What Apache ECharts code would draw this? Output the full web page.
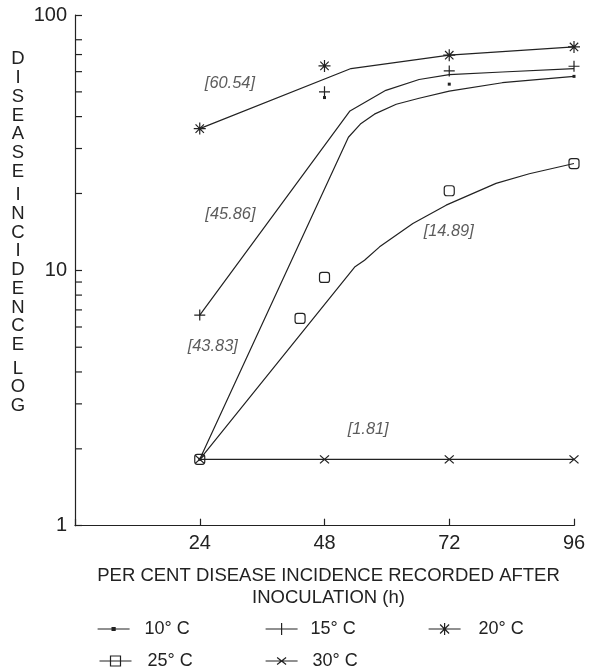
<!DOCTYPE html>
<html><head><meta charset="utf-8">
<script src="https://cdn.jsdelivr.net/npm/echarts@6/dist/echarts.min.js"></script>
<style>html,body{margin:0;padding:0;background:#fff}#c{width:593px;height:671px}</style>
</head><body><div id="c"></div>
<script>
// ---------- data ----------
const seriesNames = ['10° C', '15° C', '20° C', '25° C', '30° C'];
const xTickHours = [24, 48, 72, 96];
const yMinorTicks = [2, 3, 4, 5, 6, 7, 8, 9, 20, 30, 40, 50, 60, 70, 80];
const yTitleWords = ['DISEASE', 'INCIDENCE', 'LOG'];
const xTitle = 'PER CENT DISEASE INCIDENCE RECORDED AFTER\nINOCULATION (h)';

// observed points (markers)
const obs10X = [24, 48, 72, 96];
const obs10Y = [1.82, 47.5, 53.6, 57.5];
const obs15X = [24, 48, 72, 96];
const obs15Y = [6.68, 50.0, 60.4, 63.0];
const obs20X = [24, 48, 72, 96];
const obs20Y = [35.9, 63.2, 69.6, 75.0];
const obs25X = [24, 43.3, 48, 72, 96];
const obs25Y = [1.82, 6.48, 9.38, 20.5, 26.2];
const obs30X = [24, 48, 72, 96];
const obs30Y = [1.82, 1.82, 1.82, 1.82];

// fitted curves
const fit10X = [24, 52.6, 54.9, 57.6, 61.8, 66.2, 72, 82.2, 96];
const fit10Y = [1.82, 33.2, 37.4, 40.9, 44.7, 47.2, 50.3, 54.3, 57.5];
const fit15X = [24, 52.9, 59.8, 66.2, 72, 82.2, 96];
const fit15Y = [6.68, 42.1, 50.7, 55.9, 58.4, 59.8, 61.7];
const fit20X = [24, 53.1, 72, 96];
const fit20Y = [35.9, 61.7, 69.6, 75.0];
const fit25X = [24, 53.8, 55.7, 58.6, 65, 71.4, 81, 87.4, 96];
const fit25Y = [1.82, 10.3, 10.96, 12.36, 15.26, 18.0, 21.9, 23.9, 26.2];
const fit30X = [24, 96];
const fit30Y = [1.82, 1.82];

// bracketed annotations
const annText = ['[60.54]', '[45.86]', '[43.83]', '[14.89]', '[1.81]'];
const annX = [29.8, 29.9, 26.5, 71.9, 56.4];
const annY = [53.9, 16.6, 5.02, 14.15, 2.38];

// ---------- styling ----------
const INK = '#222';
const FONT = 'Liberation Sans, Arial, sans-serif';
const markerSymbols = [
  'rect',
  'path://M0,-5L0,5M-5,0L5,0',
  'path://M0,-6L0,6M-6,0L6,0M-4.2,-4.2L4.2,4.2M-4.2,4.2L4.2,-4.2',
  'roundRect',
  'path://M-5,-4L5,4M-5,4L5,-4'
];
const markerSizes = [3, 11, 12, 10, [9, 8]];
const markerFill = [INK, INK, INK, 'transparent', INK];
const legendIcons = [
  'path://M0,6L32,6M14.5,4.5L17.5,4.5L17.5,7.5L14.5,7.5Z',
  'path://M0,6L32,6M16,0L16,12',
  'path://M0,6L32,6M16,0L16,12M11.5,1.5L20.5,10.5M11.5,10.5L20.5,1.5',
  'path://M0,6L32,6M11,1L21,1L21,11L11,11Z',
  'path://M0,6L32,6M11.5,2.5L20.5,9.5M11.5,9.5L20.5,2.5'
];
const legendPos = [[97, 620, 10], [265, 620, 8], [428, 620, 13], [97, 652, 11], [265, 652, 10]];

const pairs = (xs, ys) => xs.map((x, i) => [x, ys[i]]);
const fits = [pairs(fit10X, fit10Y), pairs(fit15X, fit15Y), pairs(fit20X, fit20Y), pairs(fit25X, fit25Y), pairs(fit30X, fit30Y)];
const obs = [pairs(obs10X, obs10Y), pairs(obs15X, obs15Y), pairs(obs20X, obs20Y), pairs(obs25X, obs25Y), pairs(obs30X, obs30Y)];

const series = [];
seriesNames.forEach((name, i) => {
  series.push({
    name, type: 'line', data: fits[i], symbol: 'none', smooth: false, silent: true,
    lineStyle: { color: INK, width: 1.2 }, itemStyle: { color: INK }, z: 2
  });
});
seriesNames.forEach((name, i) => {
  series.push({
    name, type: 'scatter', data: obs[i], symbol: markerSymbols[i], symbolSize: markerSizes[i], silent: true,
    itemStyle: { color: markerFill[i], borderColor: INK, borderWidth: i === 0 ? 0 : 1.2, opacity: 1 }, z: 3
  });
});
// minor log ticks drawn through the axis scale
series.push({
  type: 'custom', silent: true, clip: false, z: 4,
  data: yMinorTicks.map(v => [0, v]),
  renderItem: (params, api) => {
    const p = api.coord([api.value(0), api.value(1)]);
    return { type: 'line', shape: { x1: p[0], y1: p[1], x2: p[0] + 7, y2: p[1] }, style: { stroke: INK, lineWidth: 1.2 } };
  }
});
// annotations
series.push({
  type: 'scatter', silent: true, symbolSize: 0, z: 5,
  data: annText.map((t, i) => ({ name: t, value: [annX[i], annY[i]] })),
  label: {
    show: true, position: 'inside', formatter: p => p.name,
    fontFamily: FONT, fontStyle: 'italic', fontSize: 16.4, color: '#333'
  }
});

const legends = seriesNames.map((name, i) => ({
  left: legendPos[i][0], top: legendPos[i][1], orient: 'horizontal', padding: 0,
  itemWidth: 32, itemHeight: 12, selectedMode: false,
  data: [{ name, icon: legendIcons[i], itemStyle: { color: markerFill[i] === 'transparent' ? 'none' : INK, borderColor: INK, borderWidth: 1.2 } }],
  textStyle: { fontFamily: FONT, fontSize: 18, color: INK, padding: [0, 0, 0, legendPos[i][2]] }
}));

const yTitleText = yTitleWords.map(w => w.split('').join('\n')).join('\n{g| }\n');

const option = {
  animation: false,
  backgroundColor: '#fff',
  grid: { left: 75, right: 19, top: 15, bottom: 145.3, containLabel: false, outerBoundsMode: 'none' },
  legend: legends,
  xAxis: {
    type: 'value', min: 0, max: 96, interval: 24,
    name: xTitle, nameLocation: 'middle', nameGap: 39, nameMoveOverlap: false,
    nameTextStyle: { fontFamily: FONT, fontSize: 18.5, lineHeight: 22, color: INK, padding: [0, 0, 0, 8] },
    axisLine: { show: true, lineStyle: { color: INK, width: 1.2 } },
    axisTick: { show: true, inside: true, length: 7, lineStyle: { color: INK, width: 1.2 } },
    axisLabel: { fontFamily: FONT, fontSize: 20, color: INK, margin: 8, formatter: v => (xTickHours.indexOf(v) >= 0 ? String(v) : '') },
    splitLine: { show: false }
  },
  yAxis: {
    type: 'log', logBase: 10, min: 1, max: 100,
    axisLine: { show: true, lineStyle: { color: INK, width: 1.2 } },
    axisTick: { show: true, inside: true, length: 7, lineStyle: { color: INK, width: 1.2 } },
    axisLabel: { fontFamily: FONT, fontSize: 20, color: INK, margin: 8 },
    splitLine: { show: false },
    minorTick: { show: false }
  },
  graphic: [{
    type: 'text', x: 18, y: 50, silent: true,
    style: {
      text: yTitleText, fontFamily: FONT, fontSize: 18.5, lineHeight: 18.7, fill: INK,
      align: 'center', verticalAlign: 'top',
      rich: { g: { fontSize: 5, lineHeight: 5 } }
    }
  }],
  series
};

const chart = echarts.init(document.getElementById('c'), null, { renderer: 'canvas' });
chart.setOption(option);
</script>
</body></html>
